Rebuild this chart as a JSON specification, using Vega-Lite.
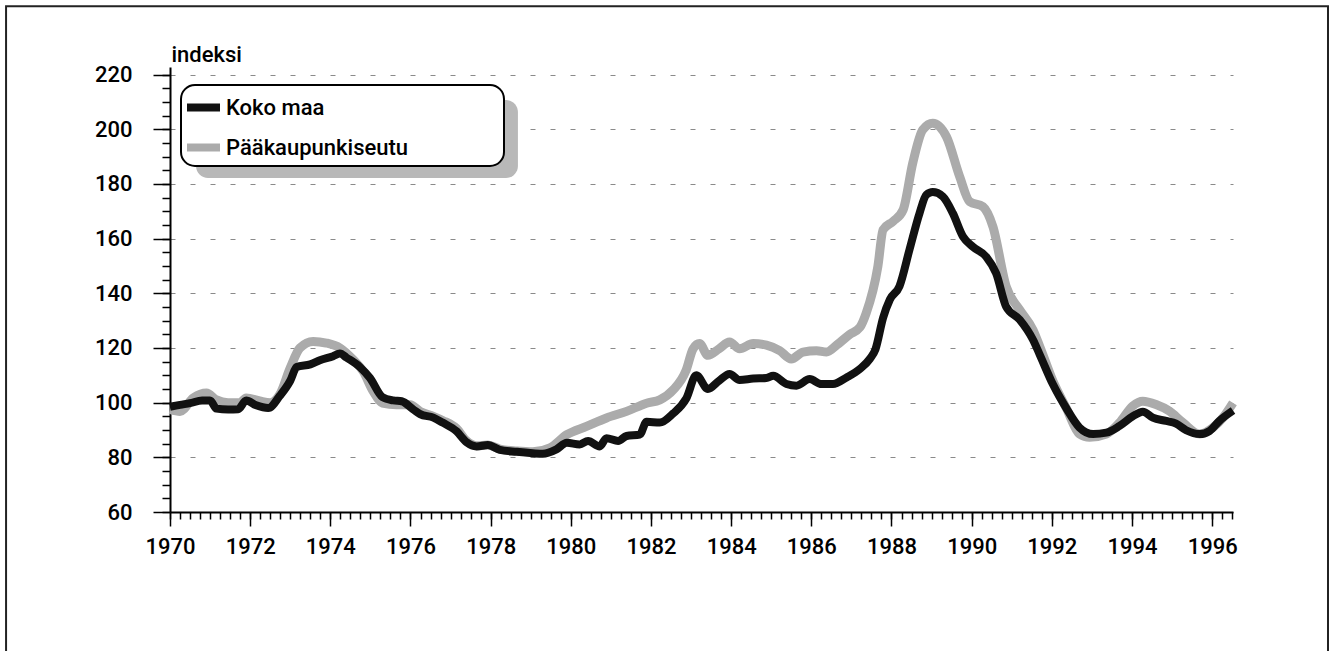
{
  "$schema": "https://vega.github.io/schema/vega-lite/v6.json",
  "width": 1063,
  "height": 445,
  "autosize": {"type": "none"},
  "padding": {"left": 170, "top": 67, "right": 97, "bottom": 139},
  "background": "white",
  "config": {
    "view": {"stroke": null},
    "font": "Roboto",
    "legend": {"strokeWidth": 2}
  },
  "datasets": {
    "hinnat": [
      {"year": 1970.00, "value": 98.5, "series": "Koko maa"},
      {"year": 1970.25, "value": 99.2, "series": "Koko maa"},
      {"year": 1970.50, "value": 99.8, "series": "Koko maa"},
      {"year": 1970.80, "value": 100.8, "series": "Koko maa"},
      {"year": 1971.00, "value": 100.8, "series": "Koko maa"},
      {"year": 1971.16, "value": 97.8, "series": "Koko maa"},
      {"year": 1971.45, "value": 97.5, "series": "Koko maa"},
      {"year": 1971.70, "value": 97.6, "series": "Koko maa"},
      {"year": 1971.90, "value": 100.8, "series": "Koko maa"},
      {"year": 1972.15, "value": 99.0, "series": "Koko maa"},
      {"year": 1972.45, "value": 98.0, "series": "Koko maa"},
      {"year": 1972.74, "value": 102.5, "series": "Koko maa"},
      {"year": 1973.00, "value": 108.0, "series": "Koko maa"},
      {"year": 1973.16, "value": 113.0, "series": "Koko maa"},
      {"year": 1973.50, "value": 114.0, "series": "Koko maa"},
      {"year": 1973.74, "value": 115.5, "series": "Koko maa"},
      {"year": 1974.07, "value": 117.0, "series": "Koko maa"},
      {"year": 1974.24, "value": 118.0, "series": "Koko maa"},
      {"year": 1974.40, "value": 116.5, "series": "Koko maa"},
      {"year": 1974.74, "value": 113.0, "series": "Koko maa"},
      {"year": 1974.99, "value": 109.0, "series": "Koko maa"},
      {"year": 1975.30, "value": 102.0, "series": "Koko maa"},
      {"year": 1975.57, "value": 100.8, "series": "Koko maa"},
      {"year": 1975.78, "value": 100.5, "series": "Koko maa"},
      {"year": 1976.07, "value": 97.5, "series": "Koko maa"},
      {"year": 1976.24, "value": 95.8, "series": "Koko maa"},
      {"year": 1976.57, "value": 94.5, "series": "Koko maa"},
      {"year": 1976.80, "value": 92.7, "series": "Koko maa"},
      {"year": 1977.15, "value": 89.5, "series": "Koko maa"},
      {"year": 1977.40, "value": 85.5, "series": "Koko maa"},
      {"year": 1977.65, "value": 84.0, "series": "Koko maa"},
      {"year": 1977.93, "value": 84.5, "series": "Koko maa"},
      {"year": 1978.23, "value": 82.7, "series": "Koko maa"},
      {"year": 1978.65, "value": 82.0, "series": "Koko maa"},
      {"year": 1979.05, "value": 81.5, "series": "Koko maa"},
      {"year": 1979.30, "value": 81.3, "series": "Koko maa"},
      {"year": 1979.64, "value": 82.9, "series": "Koko maa"},
      {"year": 1979.90, "value": 85.3, "series": "Koko maa"},
      {"year": 1980.22, "value": 84.7, "series": "Koko maa"},
      {"year": 1980.43, "value": 86.0, "series": "Koko maa"},
      {"year": 1980.72, "value": 84.0, "series": "Koko maa"},
      {"year": 1980.89, "value": 87.0, "series": "Koko maa"},
      {"year": 1981.18, "value": 86.0, "series": "Koko maa"},
      {"year": 1981.39, "value": 87.8, "series": "Koko maa"},
      {"year": 1981.72, "value": 88.3, "series": "Koko maa"},
      {"year": 1981.89, "value": 93.0, "series": "Koko maa"},
      {"year": 1982.22, "value": 92.7, "series": "Koko maa"},
      {"year": 1982.55, "value": 96.0, "series": "Koko maa"},
      {"year": 1982.88, "value": 101.5, "series": "Koko maa"},
      {"year": 1983.13, "value": 110.0, "series": "Koko maa"},
      {"year": 1983.42, "value": 105.0, "series": "Koko maa"},
      {"year": 1983.70, "value": 108.0, "series": "Koko maa"},
      {"year": 1983.96, "value": 110.5, "series": "Koko maa"},
      {"year": 1984.21, "value": 108.3, "series": "Koko maa"},
      {"year": 1984.55, "value": 108.8, "series": "Koko maa"},
      {"year": 1984.88, "value": 109.0, "series": "Koko maa"},
      {"year": 1985.05, "value": 109.8, "series": "Koko maa"},
      {"year": 1985.38, "value": 106.8, "series": "Koko maa"},
      {"year": 1985.63, "value": 106.2, "series": "Koko maa"},
      {"year": 1985.96, "value": 108.6, "series": "Koko maa"},
      {"year": 1986.25, "value": 106.8, "series": "Koko maa"},
      {"year": 1986.54, "value": 106.8, "series": "Koko maa"},
      {"year": 1986.88, "value": 109.2, "series": "Koko maa"},
      {"year": 1987.21, "value": 112.3, "series": "Koko maa"},
      {"year": 1987.46, "value": 116.0, "series": "Koko maa"},
      {"year": 1987.60, "value": 119.5, "series": "Koko maa"},
      {"year": 1987.79, "value": 131.0, "series": "Koko maa"},
      {"year": 1987.96, "value": 137.7, "series": "Koko maa"},
      {"year": 1988.20, "value": 142.6, "series": "Koko maa"},
      {"year": 1988.45, "value": 156.0, "series": "Koko maa"},
      {"year": 1988.70, "value": 169.3, "series": "Koko maa"},
      {"year": 1988.87, "value": 176.0, "series": "Koko maa"},
      {"year": 1989.03, "value": 177.0, "series": "Koko maa"},
      {"year": 1989.28, "value": 175.4, "series": "Koko maa"},
      {"year": 1989.53, "value": 169.3, "series": "Koko maa"},
      {"year": 1989.78, "value": 160.8, "series": "Koko maa"},
      {"year": 1990.03, "value": 157.0, "series": "Koko maa"},
      {"year": 1990.36, "value": 153.4, "series": "Koko maa"},
      {"year": 1990.61, "value": 147.3, "series": "Koko maa"},
      {"year": 1990.86, "value": 135.1, "series": "Koko maa"},
      {"year": 1991.20, "value": 130.3, "series": "Koko maa"},
      {"year": 1991.53, "value": 123.0, "series": "Koko maa"},
      {"year": 1991.70, "value": 117.5, "series": "Koko maa"},
      {"year": 1992.03, "value": 106.6, "series": "Koko maa"},
      {"year": 1992.36, "value": 98.0, "series": "Koko maa"},
      {"year": 1992.69, "value": 90.9, "series": "Koko maa"},
      {"year": 1993.03, "value": 88.5, "series": "Koko maa"},
      {"year": 1993.36, "value": 89.0, "series": "Koko maa"},
      {"year": 1993.69, "value": 91.5, "series": "Koko maa"},
      {"year": 1994.02, "value": 95.0, "series": "Koko maa"},
      {"year": 1994.27, "value": 96.7, "series": "Koko maa"},
      {"year": 1994.52, "value": 94.5, "series": "Koko maa"},
      {"year": 1994.85, "value": 93.3, "series": "Koko maa"},
      {"year": 1995.10, "value": 92.3, "series": "Koko maa"},
      {"year": 1995.35, "value": 89.9, "series": "Koko maa"},
      {"year": 1995.69, "value": 88.5, "series": "Koko maa"},
      {"year": 1995.94, "value": 89.7, "series": "Koko maa"},
      {"year": 1996.18, "value": 93.3, "series": "Koko maa"},
      {"year": 1996.52, "value": 97.1, "series": "Koko maa"},

      {"year": 1970.00, "value": 97.5, "series": "Pääkaupunkiseutu"},
      {"year": 1970.25, "value": 96.8, "series": "Pääkaupunkiseutu"},
      {"year": 1970.58, "value": 101.7, "series": "Pääkaupunkiseutu"},
      {"year": 1970.91, "value": 103.5, "series": "Pääkaupunkiseutu"},
      {"year": 1971.16, "value": 101.0, "series": "Pääkaupunkiseutu"},
      {"year": 1971.45, "value": 100.0, "series": "Pääkaupunkiseutu"},
      {"year": 1971.75, "value": 100.0, "series": "Pääkaupunkiseutu"},
      {"year": 1971.90, "value": 101.7, "series": "Pääkaupunkiseutu"},
      {"year": 1972.24, "value": 100.6, "series": "Pääkaupunkiseutu"},
      {"year": 1972.50, "value": 100.0, "series": "Pääkaupunkiseutu"},
      {"year": 1972.74, "value": 103.0, "series": "Pääkaupunkiseutu"},
      {"year": 1973.00, "value": 112.7, "series": "Pääkaupunkiseutu"},
      {"year": 1973.24, "value": 120.0, "series": "Pääkaupunkiseutu"},
      {"year": 1973.57, "value": 122.4, "series": "Pääkaupunkiseutu"},
      {"year": 1973.90, "value": 121.8, "series": "Pääkaupunkiseutu"},
      {"year": 1974.24, "value": 120.0, "series": "Pääkaupunkiseutu"},
      {"year": 1974.57, "value": 115.7, "series": "Pääkaupunkiseutu"},
      {"year": 1974.82, "value": 111.4, "series": "Pääkaupunkiseutu"},
      {"year": 1975.07, "value": 104.1, "series": "Pääkaupunkiseutu"},
      {"year": 1975.30, "value": 99.8, "series": "Pääkaupunkiseutu"},
      {"year": 1975.65, "value": 99.2, "series": "Pääkaupunkiseutu"},
      {"year": 1975.99, "value": 99.2, "series": "Pääkaupunkiseutu"},
      {"year": 1976.24, "value": 96.8, "series": "Pääkaupunkiseutu"},
      {"year": 1976.57, "value": 95.0, "series": "Pääkaupunkiseutu"},
      {"year": 1976.80, "value": 93.5, "series": "Pääkaupunkiseutu"},
      {"year": 1977.15, "value": 90.5, "series": "Pääkaupunkiseutu"},
      {"year": 1977.40, "value": 86.0, "series": "Pääkaupunkiseutu"},
      {"year": 1977.65, "value": 84.2, "series": "Pääkaupunkiseutu"},
      {"year": 1977.93, "value": 84.5, "series": "Pääkaupunkiseutu"},
      {"year": 1978.23, "value": 83.0, "series": "Pääkaupunkiseutu"},
      {"year": 1978.65, "value": 82.3, "series": "Pääkaupunkiseutu"},
      {"year": 1979.05, "value": 82.0, "series": "Pääkaupunkiseutu"},
      {"year": 1979.48, "value": 83.5, "series": "Pääkaupunkiseutu"},
      {"year": 1979.90, "value": 88.3, "series": "Pääkaupunkiseutu"},
      {"year": 1980.39, "value": 91.3, "series": "Pääkaupunkiseutu"},
      {"year": 1980.89, "value": 94.4, "series": "Pääkaupunkiseutu"},
      {"year": 1981.39, "value": 96.8, "series": "Pääkaupunkiseutu"},
      {"year": 1981.89, "value": 99.8, "series": "Pääkaupunkiseutu"},
      {"year": 1982.22, "value": 101.0, "series": "Pääkaupunkiseutu"},
      {"year": 1982.55, "value": 104.6, "series": "Pääkaupunkiseutu"},
      {"year": 1982.88, "value": 112.0, "series": "Pääkaupunkiseutu"},
      {"year": 1983.05, "value": 119.7, "series": "Pääkaupunkiseutu"},
      {"year": 1983.21, "value": 121.6, "series": "Pääkaupunkiseutu"},
      {"year": 1983.42, "value": 117.3, "series": "Pääkaupunkiseutu"},
      {"year": 1983.70, "value": 119.7, "series": "Pääkaupunkiseutu"},
      {"year": 1983.96, "value": 122.2, "series": "Pääkaupunkiseutu"},
      {"year": 1984.21, "value": 119.7, "series": "Pääkaupunkiseutu"},
      {"year": 1984.55, "value": 121.6, "series": "Pääkaupunkiseutu"},
      {"year": 1984.88, "value": 121.0, "series": "Pääkaupunkiseutu"},
      {"year": 1985.21, "value": 119.0, "series": "Pääkaupunkiseutu"},
      {"year": 1985.50, "value": 116.0, "series": "Pääkaupunkiseutu"},
      {"year": 1985.79, "value": 118.5, "series": "Pääkaupunkiseutu"},
      {"year": 1986.13, "value": 119.0, "series": "Pääkaupunkiseutu"},
      {"year": 1986.38, "value": 118.5, "series": "Pääkaupunkiseutu"},
      {"year": 1986.63, "value": 121.0, "series": "Pääkaupunkiseutu"},
      {"year": 1986.96, "value": 125.0, "series": "Pääkaupunkiseutu"},
      {"year": 1987.21, "value": 127.5, "series": "Pääkaupunkiseutu"},
      {"year": 1987.37, "value": 132.8, "series": "Pääkaupunkiseutu"},
      {"year": 1987.66, "value": 149.8, "series": "Pääkaupunkiseutu"},
      {"year": 1987.79, "value": 163.2, "series": "Pääkaupunkiseutu"},
      {"year": 1988.04, "value": 166.3, "series": "Pääkaupunkiseutu"},
      {"year": 1988.29, "value": 170.5, "series": "Pääkaupunkiseutu"},
      {"year": 1988.53, "value": 187.6, "series": "Pääkaupunkiseutu"},
      {"year": 1988.78, "value": 199.8, "series": "Pääkaupunkiseutu"},
      {"year": 1989.03, "value": 202.2, "series": "Pääkaupunkiseutu"},
      {"year": 1989.37, "value": 197.3, "series": "Pääkaupunkiseutu"},
      {"year": 1989.70, "value": 182.7, "series": "Pääkaupunkiseutu"},
      {"year": 1989.95, "value": 173.5, "series": "Pääkaupunkiseutu"},
      {"year": 1990.28, "value": 171.7, "series": "Pääkaupunkiseutu"},
      {"year": 1990.53, "value": 164.4, "series": "Pääkaupunkiseutu"},
      {"year": 1990.86, "value": 142.5, "series": "Pääkaupunkiseutu"},
      {"year": 1991.20, "value": 133.9, "series": "Pääkaupunkiseutu"},
      {"year": 1991.53, "value": 126.6, "series": "Pääkaupunkiseutu"},
      {"year": 1991.70, "value": 120.5, "series": "Pääkaupunkiseutu"},
      {"year": 1992.03, "value": 107.8, "series": "Pääkaupunkiseutu"},
      {"year": 1992.36, "value": 98.0, "series": "Pääkaupunkiseutu"},
      {"year": 1992.69, "value": 88.5, "series": "Pääkaupunkiseutu"},
      {"year": 1992.94, "value": 87.3, "series": "Pääkaupunkiseutu"},
      {"year": 1993.36, "value": 88.5, "series": "Pääkaupunkiseutu"},
      {"year": 1993.69, "value": 92.7, "series": "Pääkaupunkiseutu"},
      {"year": 1994.02, "value": 98.8, "series": "Pääkaupunkiseutu"},
      {"year": 1994.27, "value": 100.5, "series": "Pääkaupunkiseutu"},
      {"year": 1994.60, "value": 99.3, "series": "Pääkaupunkiseutu"},
      {"year": 1994.93, "value": 96.9, "series": "Pääkaupunkiseutu"},
      {"year": 1995.27, "value": 92.7, "series": "Pääkaupunkiseutu"},
      {"year": 1995.69, "value": 88.5, "series": "Pääkaupunkiseutu"},
      {"year": 1996.02, "value": 90.9, "series": "Pääkaupunkiseutu"},
      {"year": 1996.27, "value": 94.5, "series": "Pääkaupunkiseutu"},
      {"year": 1996.52, "value": 99.9, "series": "Pääkaupunkiseutu"}
    ]
  },
  "data": {"name": "hinnat"},
  "resolve": {"axis": {"x": "independent", "y": "independent"}},
  "layer": [
    {
      "data": {"values": [{"kehys": "ulko"}]},
      "mark": {"type": "rect", "fillOpacity": 0, "stroke": "#222222", "strokeWidth": 2, "clip": false},
      "encoding": {
        "x": {"datum": 1965.91, "type": "quantitative", "scale": {"domain": [1970, 1996.52], "nice": false, "zero": false}, "axis": null},
        "x2": {"datum": 1998.89},
        "y": {"datum": 245.0, "type": "quantitative", "scale": {"domain": [60, 222.75], "nice": false, "zero": false}, "axis": null},
        "y2": {"datum": 5}
      }
    },
    {
      "data": {"values": [{"kehys": "varjo"}]},
      "mark": {"type": "rect", "fill": "#b8b8b8", "cornerRadius": 12, "clip": false},
      "encoding": {
        "x": {"datum": 1970.65, "type": "quantitative", "axis": null},
        "x2": {"datum": 1978.68},
        "y": {"datum": 210.68, "type": "quantitative", "axis": null},
        "y2": {"datum": 182.15}
      }
    },
    {
      "transform": [{"filter": "datum.series === 'Pääkaupunkiseutu'"}],
      "mark": {"type": "line", "strokeWidth": 9, "interpolate": "monotone", "strokeJoin": "round"},
      "encoding": {
        "x": {
          "field": "year", "type": "quantitative",
          "axis": {
            "title": null, "orient": "bottom",
            "values": [1970, 1972, 1974, 1976, 1978, 1980, 1982, 1984, 1986, 1988, 1990, 1992, 1994, 1996],
            "format": "d", "grid": false, "labelOverlap": false, "labelFlush": false,
            "domainColor": "black", "domainWidth": 2,
            "tickColor": "black", "tickWidth": 1.5, "tickSize": 14,
            "labelFontSize": 22, "labelColor": "black", "labelPadding": 10, "labelFontWeight": 500
          }
        },
        "y": {
          "field": "value", "type": "quantitative",
          "axis": {
            "orient": "left",
            "title": "indeksi", "titleAngle": 0, "titleAlign": "left", "titleBaseline": "alphabetic",
            "titleX": 1, "titleY": -6, "titleFontSize": 22, "titleFontWeight": 500, "titleColor": "black",
            "values": [60, 80, 100, 120, 140, 160, 180, 200, 220],
            "grid": true, "gridDash": [5, 15], "gridColor": "#8a8a8a", "gridWidth": 1,
            "domainColor": "black", "domainWidth": 2,
            "tickColor": "black", "tickWidth": 1.5, "tickSize": 17,
            "labelFontSize": 22, "labelColor": "black", "labelPadding": 21, "labelFontWeight": 500
          }
        },
        "color": {
          "field": "series", "type": "nominal",
          "scale": {"domain": ["Koko maa", "Pääkaupunkiseutu"], "range": ["#111111", "#ababab"]},
          "legend": {
            "orient": "none", "legendX": 11, "legendY": 18,
            "title": "\u00a0", "titleOrient": "right", "titlePadding": 94, "titleFontSize": 10,
            "strokeColor": "black", "fillColor": "white", "cornerRadius": 14, "padding": 2,
            "symbolType": "stroke", "symbolStrokeWidth": 8, "symbolSize": 1089,
            "labelFontSize": 22, "labelColor": "black", "labelOffset": 2, "labelFontWeight": 500, "labelLimit": 400,
            "rowPadding": 3
          }
        }
      }
    },
    {
      "transform": [{"filter": "datum.series === 'Koko maa'"}],
      "mark": {"type": "line", "strokeWidth": 8, "interpolate": "monotone", "strokeJoin": "round"},
      "encoding": {
        "x": {
          "field": "year", "type": "quantitative",
          "axis": {
            "title": null, "orient": "bottom", "labels": false, "domain": false, "grid": false,
            "values": [1970, 1970.25, 1970.5, 1970.75, 1971, 1971.25, 1971.5, 1971.75, 1972, 1972.25, 1972.5, 1972.75, 1973, 1973.25, 1973.5, 1973.75, 1974, 1974.25, 1974.5, 1974.75, 1975, 1975.25, 1975.5, 1975.75, 1976, 1976.25, 1976.5, 1976.75, 1977, 1977.25, 1977.5, 1977.75, 1978, 1978.25, 1978.5, 1978.75, 1979, 1979.25, 1979.5, 1979.75, 1980, 1980.25, 1980.5, 1980.75, 1981, 1981.25, 1981.5, 1981.75, 1982, 1982.25, 1982.5, 1982.75, 1983, 1983.25, 1983.5, 1983.75, 1984, 1984.25, 1984.5, 1984.75, 1985, 1985.25, 1985.5, 1985.75, 1986, 1986.25, 1986.5, 1986.75, 1987, 1987.25, 1987.5, 1987.75, 1988, 1988.25, 1988.5, 1988.75, 1989, 1989.25, 1989.5, 1989.75, 1990, 1990.25, 1990.5, 1990.75, 1991, 1991.25, 1991.5, 1991.75, 1992, 1992.25, 1992.5, 1992.75, 1993, 1993.25, 1993.5, 1993.75, 1994, 1994.25, 1994.5, 1994.75, 1995, 1995.25, 1995.5, 1995.75, 1996, 1996.25, 1996.5],
            "tickColor": "black", "tickWidth": 1.5, "tickSize": 7
          }
        },
        "y": {
          "field": "value", "type": "quantitative",
          "axis": {
            "title": null, "orient": "left", "labels": false, "domain": false, "grid": false,
            "values": [60, 65, 70, 75, 80, 85, 90, 95, 100, 105, 110, 115, 120, 125, 130, 135, 140, 145, 150, 155, 160, 165, 170, 175, 180, 185, 190, 195, 200, 205, 210, 215, 220],
            "tickColor": "black", "tickWidth": 1.5, "tickSize": 8
          }
        },
        "color": {
          "field": "series", "type": "nominal",
          "legend": {
            "orient": "none", "legendX": 11, "legendY": 18,
            "title": "\u00a0", "titleOrient": "right", "titlePadding": 94, "titleFontSize": 10,
            "strokeColor": "black", "fillColor": "white", "cornerRadius": 14, "padding": 2,
            "symbolType": "stroke", "symbolStrokeWidth": 8, "symbolSize": 1089,
            "labelFontSize": 22, "labelColor": "black", "labelOffset": 2, "labelFontWeight": 500, "labelLimit": 400,
            "rowPadding": 3
          }
        }
      }
    }
  ]
}
